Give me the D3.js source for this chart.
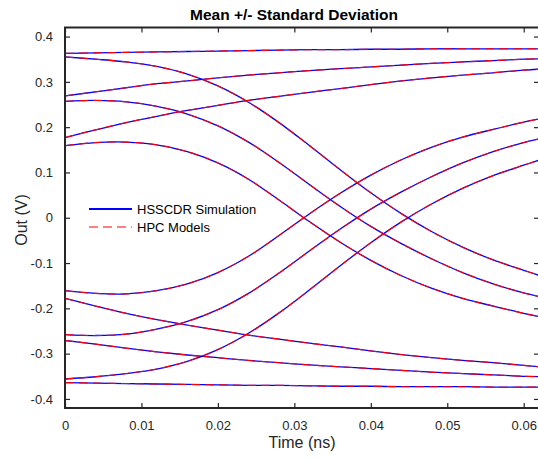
<!DOCTYPE html>
<html>
<head>
<meta charset="utf-8">
<script src="https://cdn.jsdelivr.net/npm/d3@7"></script>
<style>
  body { margin: 0; background: #fff; }
  #chart { width: 538px; height: 459px; }
</style>
</head>
<body>
<div id="chart"></div>
<script>
// time samples (ns)
var times = [0, 0.004, 0.008, 0.012, 0.016, 0.02, 0.024, 0.028, 0.032, 0.036, 0.04, 0.044, 0.048, 0.052, 0.056, 0.06, 0.062];

// upper traces
var topFlat  = [0.363, 0.364, 0.365, 0.366, 0.367, 0.368, 0.369, 0.370, 0.371, 0.371, 0.372, 0.372, 0.373, 0.373, 0.373, 0.373, 0.373];
var riseHigh = [0.269, 0.278, 0.287, 0.296, 0.302, 0.309, 0.315, 0.320, 0.325, 0.329, 0.333, 0.337, 0.341, 0.344, 0.347, 0.350, 0.351];
var riseLow  = [0.177, 0.194, 0.210, 0.224, 0.237, 0.248, 0.259, 0.268, 0.277, 0.285, 0.294, 0.302, 0.309, 0.315, 0.320, 0.326, 0.328];
var fallA    = [0.355, 0.350, 0.344, 0.334, 0.317, 0.291, 0.255, 0.210, 0.159, 0.106, 0.055, 0.009, -0.031, -0.065, -0.093, -0.116, -0.127];
var fallB    = [0.257, 0.259, 0.256, 0.246, 0.229, 0.203, 0.167, 0.122, 0.073, 0.025, -0.019, -0.057, -0.091, -0.121, -0.146, -0.166, -0.174];
var fallC    = [0.159, 0.166, 0.167, 0.161, 0.146, 0.121, 0.085, 0.039, -0.009, -0.054, -0.094, -0.128, -0.156, -0.178, -0.195, -0.211, -0.218];

// lower traces
var bottomFlat = [-0.364, -0.365, -0.366, -0.367, -0.368, -0.369, -0.370, -0.370, -0.371, -0.372, -0.372, -0.373, -0.373, -0.373, -0.374, -0.374, -0.374];
var fallHigh   = [-0.271, -0.279, -0.288, -0.296, -0.303, -0.309, -0.315, -0.320, -0.325, -0.329, -0.333, -0.337, -0.341, -0.344, -0.347, -0.350, -0.351];
var fallLow    = [-0.178, -0.195, -0.211, -0.225, -0.237, -0.248, -0.259, -0.268, -0.277, -0.285, -0.294, -0.302, -0.309, -0.315, -0.320, -0.326, -0.329];
var riseA      = [-0.356, -0.351, -0.344, -0.334, -0.317, -0.291, -0.255, -0.210, -0.159, -0.106, -0.055, -0.009, 0.031, 0.065, 0.093, 0.116, 0.127];
var riseB      = [-0.258, -0.260, -0.257, -0.246, -0.229, -0.203, -0.167, -0.122, -0.073, -0.025, 0.019, 0.057, 0.091, 0.121, 0.146, 0.166, 0.174];
var riseC      = [-0.161, -0.167, -0.168, -0.161, -0.146, -0.121, -0.085, -0.039, 0.009, 0.054, 0.094, 0.128, 0.156, 0.178, 0.195, 0.211, 0.218];

var xTicks = [0, 0.01, 0.02, 0.03, 0.04, 0.05, 0.06];
var xTickLabels = ['0', '0.01', '0.02', '0.03', '0.04', '0.05', '0.06'];
var yTicks = [-0.4, -0.3, -0.2, -0.1, 0, 0.1, 0.2, 0.3, 0.4];
var yTickLabels = ['-0.4', '-0.3', '-0.2', '-0.1', '0', '0.1', '0.2', '0.3', '0.4'];

var legendLabels = ['HSSCDR Simulation', 'HPC Models'];

(function(d3) {

  'use strict';

  var Chart = function(element) {
    this.element = element;
    this.svg = null;
    this.width = 538;
    this.height = 459;
    this.box = { left: 65, right: 539, top: 27.5, bottom: 408 };
    this.axisColor = '#262626';
    this.font = 'Arial, "Liberation Sans", Helvetica, sans-serif';
  };

  Chart.prototype = {

    init: function() {
      this.setSvg();
      this.setScales();
      this.drawLines();
      this.drawAxes();
      this.drawLabels();
      this.drawLegend();
    },

    setSvg: function() {
      this.svg = d3.select(this.element)
        .append('svg')
        .attr('width', this.width)
        .attr('height', this.height)
        .style('font-family', this.font);
    },

    setScales: function() {
      this.x = d3.scaleLinear().domain([0, 0.062]).range([this.box.left, this.box.right]);
      this.y = d3.scaleLinear().domain([-0.42, 0.42]).range([this.box.bottom, this.box.top]);
    },

    series: function() {
      return [topFlat, riseHigh, riseLow, fallA, fallB, fallC,
              bottomFlat, fallHigh, fallLow, riseA, riseB, riseC];
    },

    drawLines: function() {
      var b = this.box;
      this.svg.append('clipPath').attr('id', 'plot-clip')
        .append('rect')
        .attr('x', b.left).attr('y', b.top)
        .attr('width', b.right - b.left).attr('height', b.bottom - b.top);

      var line = d3.line()
        .x(function(d) { return this.x(d[0]); }.bind(this))
        .y(function(d) { return this.y(d[1]); }.bind(this))
        .curve(d3.curveCatmullRom.alpha(0.5));

      var data = this.series().map(function(vals) {
        return times.map(function(t, i) { return [t, vals[i]]; });
      });

      var g = this.svg.append('g').attr('clip-path', 'url(#plot-clip)');

      g.selectAll('path.sim')
        .data(data)
        .enter()
        .append('path')
        .attr('class', 'sim')
        .attr('d', line)
        .style('fill', 'none')
        .style('stroke', '#0000ff')
        .style('stroke-width', 1.3);

      g.selectAll('path.model')
        .data(data)
        .enter()
        .append('path')
        .attr('class', 'model')
        .attr('d', line)
        .style('fill', 'none')
        .style('stroke', '#ff0000')
        .style('stroke-width', 1.1)
        .style('stroke-dasharray', '9,5');
    },

    drawAxes: function() {
      var b = this.box;
      var c = this.axisColor;

      var bottom = this.svg.append('g')
        .attr('transform', 'translate(0,' + b.bottom + ')')
        .call(d3.axisBottom(this.x).tickValues(xTicks)
          .tickFormat(function(d, i) { return xTickLabels[i]; })
          .tickSizeInner(-5).tickSizeOuter(0).tickPadding(13));

      var top = this.svg.append('g')
        .attr('transform', 'translate(0,' + b.top + ')')
        .call(d3.axisTop(this.x).tickValues(xTicks)
          .tickFormat('').tickSizeInner(-5).tickSizeOuter(0));

      var left = this.svg.append('g')
        .attr('transform', 'translate(' + b.left + ',0)')
        .call(d3.axisLeft(this.y).tickValues(yTicks)
          .tickFormat(function(d, i) { return yTickLabels[i]; })
          .tickSizeInner(-5).tickSizeOuter(0).tickPadding(12));

      var right = this.svg.append('g')
        .attr('transform', 'translate(' + b.right + ',0)')
        .call(d3.axisRight(this.y).tickValues(yTicks)
          .tickFormat('').tickSizeInner(-5).tickSizeOuter(0));

      [bottom, top, left, right].forEach(function(ax) {
        ax.select('.domain').remove();
        ax.selectAll('.tick line').style('stroke', c).style('stroke-width', 1.2);
        ax.selectAll('.tick text')
          .style('fill', c)
          .style('font-size', '13px')
          .style('font-family', this.font);
      }.bind(this));

      this.svg.append('rect')
        .attr('x', b.left).attr('y', b.top)
        .attr('width', b.right - b.left).attr('height', b.bottom - b.top)
        .style('fill', 'none')
        .style('stroke', c)
        .style('stroke-width', 2);
    },

    drawLabels: function() {
      var c = this.axisColor;

      this.svg.append('text')
        .attr('x', 294).attr('y', 20)
        .attr('text-anchor', 'middle')
        .style('font-size', '15.5px')
        .style('font-weight', 'bold')
        .style('fill', '#000')
        .text('Mean +/- Standard Deviation');

      this.svg.append('text')
        .attr('x', 302).attr('y', 448)
        .attr('text-anchor', 'middle')
        .style('font-size', '16px')
        .style('fill', c)
        .text('Time (ns)');

      this.svg.append('text')
        .attr('transform', 'translate(27,220) rotate(-90)')
        .attr('text-anchor', 'middle')
        .style('font-size', '16px')
        .style('fill', c)
        .text('Out (V)');
    },

    drawLegend: function() {
      var rows = [
        { y: 209, color: '#0000ff', width: 2, dash: null },
        { y: 227, color: '#ff0000', width: 1.2, dash: '9,5' }
      ];

      var item = this.svg.append('g').selectAll('g')
        .data(rows)
        .enter()
        .append('g');

      item.append('line')
        .attr('x1', 89).attr('x2', 132)
        .attr('y1', function(d) { return d.y; })
        .attr('y2', function(d) { return d.y; })
        .style('stroke', function(d) { return d.color; })
        .style('stroke-width', function(d) { return d.width; })
        .style('stroke-dasharray', function(d) { return d.dash; });

      item.append('text')
        .attr('x', 137)
        .attr('y', function(d) { return d.y + 4.5; })
        .style('font-size', '13px')
        .style('fill', '#000')
        .text(function(d, i) { return legendLabels[i]; });
    }

  };

  var app = new Chart('#chart');
  app.init();

})(d3);
</script>
</body>
</html>
